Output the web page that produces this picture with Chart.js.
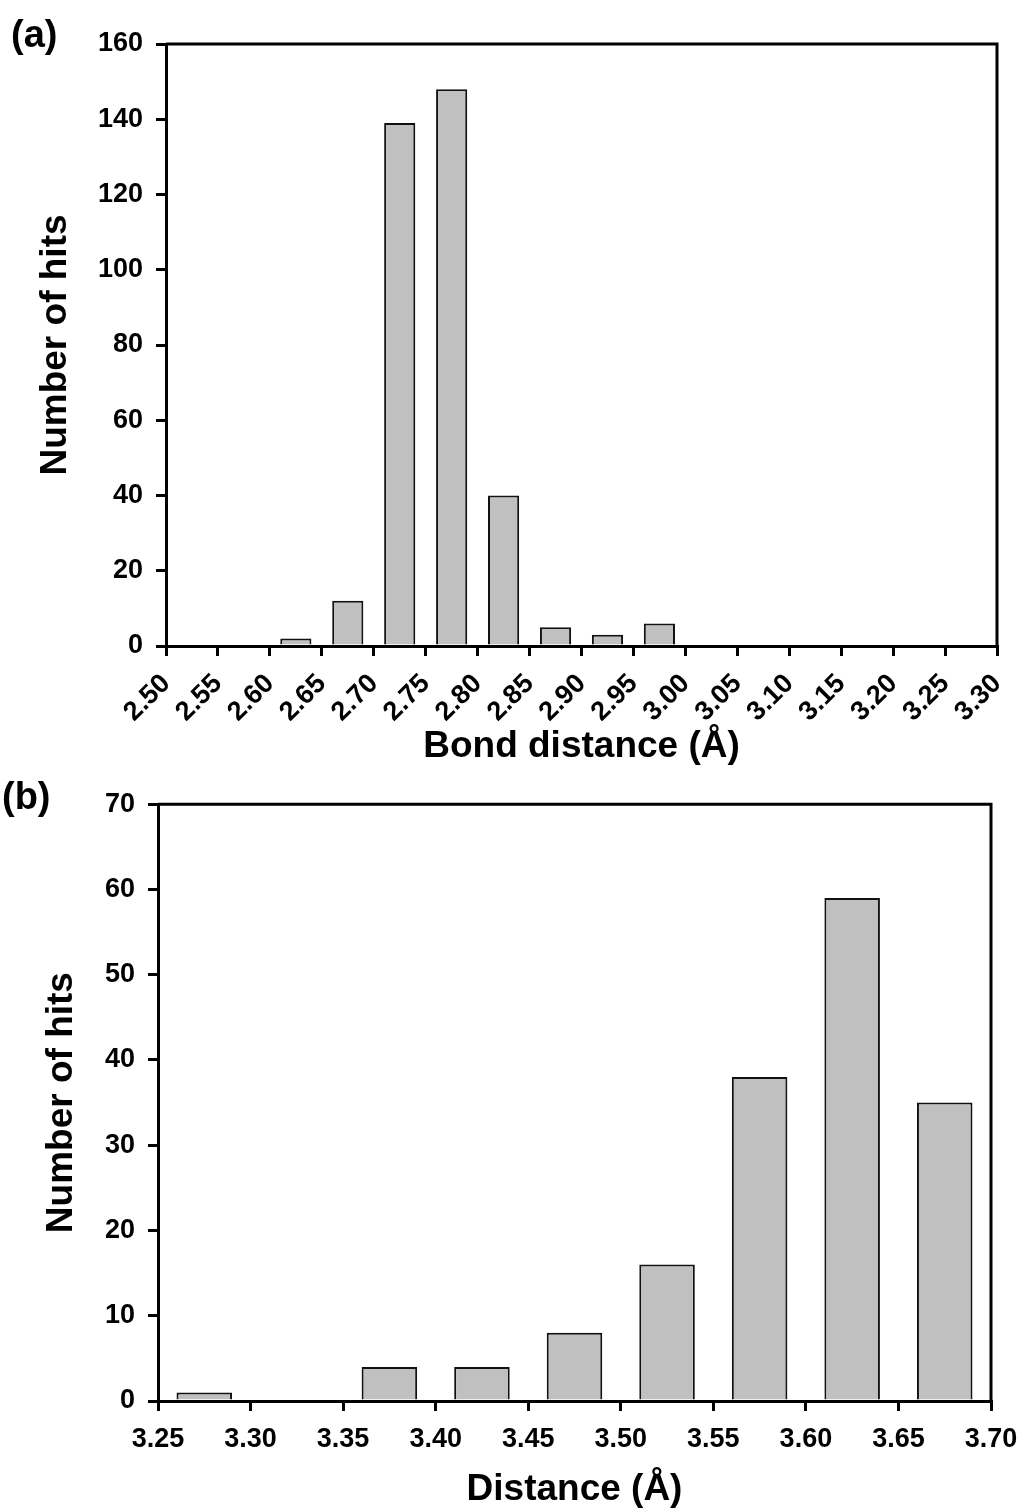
<!DOCTYPE html>
<html>
<head>
<meta charset="utf-8">
<script src="https://cdn.jsdelivr.net/npm/chart.js@4.4.1/dist/chart.umd.min.js"></script>
<style>
  body { margin: 0; background: #fff; width: 1023px; height: 1508px; position: relative; overflow: hidden; }
  canvas { position: absolute; left: 0; }
  #chartA { top: 0; }
  #chartB { top: 775px; }
  .panel { position: absolute; font: bold 38px "Liberation Sans", Arial, sans-serif; line-height: 1; color: #000; }
</style>
</head>
<body>
<canvas id="chartA" width="1023" height="775"></canvas>
<canvas id="chartB" width="1023" height="733"></canvas>
<div class="panel" style="left:11px; top:15px;">(a)</div>
<div class="panel" style="left:2px; top:777px;">(b)</div>
<script>
// panel (a): bond distance histogram
const binsA = [2.625, 2.675, 2.725, 2.775, 2.825, 2.875, 2.925, 2.975];
const hitsA = [2, 12, 139, 148, 40, 5, 3, 6];
const xTicksA = [2.50, 2.55, 2.60, 2.65, 2.70, 2.75, 2.80, 2.85, 2.90, 2.95, 3.00, 3.05, 3.10, 3.15, 3.20, 3.25, 3.30];
const yTicksA = [0, 20, 40, 60, 80, 100, 120, 140, 160];

// panel (b): distance histogram
const binsB = [3.275, 3.375, 3.425, 3.475, 3.525, 3.575, 3.625, 3.675];
const hitsB = [1, 4, 4, 8, 16, 38, 59, 35];
const xTicksB = [3.25, 3.30, 3.35, 3.40, 3.45, 3.50, 3.55, 3.60, 3.65, 3.70];
const yTicksB = [0, 10, 20, 30, 40, 50, 60, 70];

Chart.defaults.font.family = "'Liberation Sans', Arial, sans-serif";
Chart.defaults.font.weight = "bold";
Chart.defaults.color = "#000";

const framePlugin = {
  id: "frame",
  afterDraw(chart) {
    const { ctx, chartArea: a } = chart;
    ctx.save();
    ctx.strokeStyle = "#000";
    ctx.lineWidth = 3;
    ctx.beginPath();
    ctx.moveTo(a.left, a.top);
    ctx.lineTo(a.right, a.top);
    ctx.lineTo(a.right, a.bottom);
    ctx.stroke();
    ctx.restore();
  },
};

function axisGrid() {
  return { drawOnChartArea: false, drawTicks: true, tickLength: 10, lineWidth: 3, color: "#000" };
}

function makeChart(id, bins, hits, xTicks, yTicks, opts) {
  return new Chart(document.getElementById(id), {
    type: "bar",
    data: {
      datasets: [
        {
          data: bins.map((x, i) => ({ x, y: hits[i] })),
          backgroundColor: "#c0c0c0",
          borderColor: "#111",
          borderWidth: 2,
          barPercentage: 0.6,
          categoryPercentage: 1,
        },
      ],
    },
    options: {
      responsive: false,
      animation: false,
      layout: { padding: { left: 0, top: opts.top, right: opts.right, bottom: 0 } },
      plugins: { legend: { display: false }, tooltip: { enabled: false } },
      scales: {
        x: {
          type: "linear",
          offset: false,
          min: xTicks[0],
          max: xTicks[xTicks.length - 1],
          afterBuildTicks: (s) => { s.ticks = xTicks.map((v) => ({ value: v })); },
          afterFit: (s) => {
            s.height = opts.xHeight;
            s.paddingLeft = 0;
            s.paddingRight = 0;
          },
          grid: { ...axisGrid(), offset: false },
          border: { width: 3, color: "#000" },
          ticks: {
            autoSkip: false,
            minRotation: opts.rot,
            maxRotation: opts.rot,
            padding: opts.xPad,
            font: { size: 27, weight: "bold" },
            callback: (v) => Number(v).toFixed(2),
          },
          title: {
            display: true,
            text: opts.xTitle,
            font: { size: 37, weight: "bold", lineHeight: 1 },
            padding: { top: 0, bottom: opts.xTitlePad },
          },
        },
        y: {
          min: yTicks[0],
          max: yTicks[yTicks.length - 1],
          afterBuildTicks: (s) => { s.ticks = yTicks.map((v) => ({ value: v })); },
          afterFit: (s) => { s.width = opts.yWidth; },
          grid: axisGrid(),
          border: { width: 3, color: "#000" },
          ticks: { padding: 13, font: { size: 27, weight: "bold" } },
          title: {
            display: true,
            text: "Number of hits",
            font: { size: 37, weight: "bold", lineHeight: 1 },
            padding: { top: opts.yTitlePad, bottom: 0 },
          },
        },
      },
    },
    plugins: [framePlugin],
  });
}

makeChart("chartA", binsA, hitsA, xTicksA, yTicksA, {
  top: 44, right: 26, xHeight: 129, yWidth: 166, rot: 45, xPad: 12,
  xTitle: "Bond distance (Å)", xTitlePad: 10, yTitlePad: 37,
});

makeChart("chartB", binsB, hitsB, xTicksB, yTicksB, {
  top: 26, right: 32, xHeight: 107, yWidth: 158, rot: 0, xPad: 12,
  xTitle: "Distance (Å)", xTitlePad: 0, yTitlePad: 43,
});
</script>
</body>
</html>
